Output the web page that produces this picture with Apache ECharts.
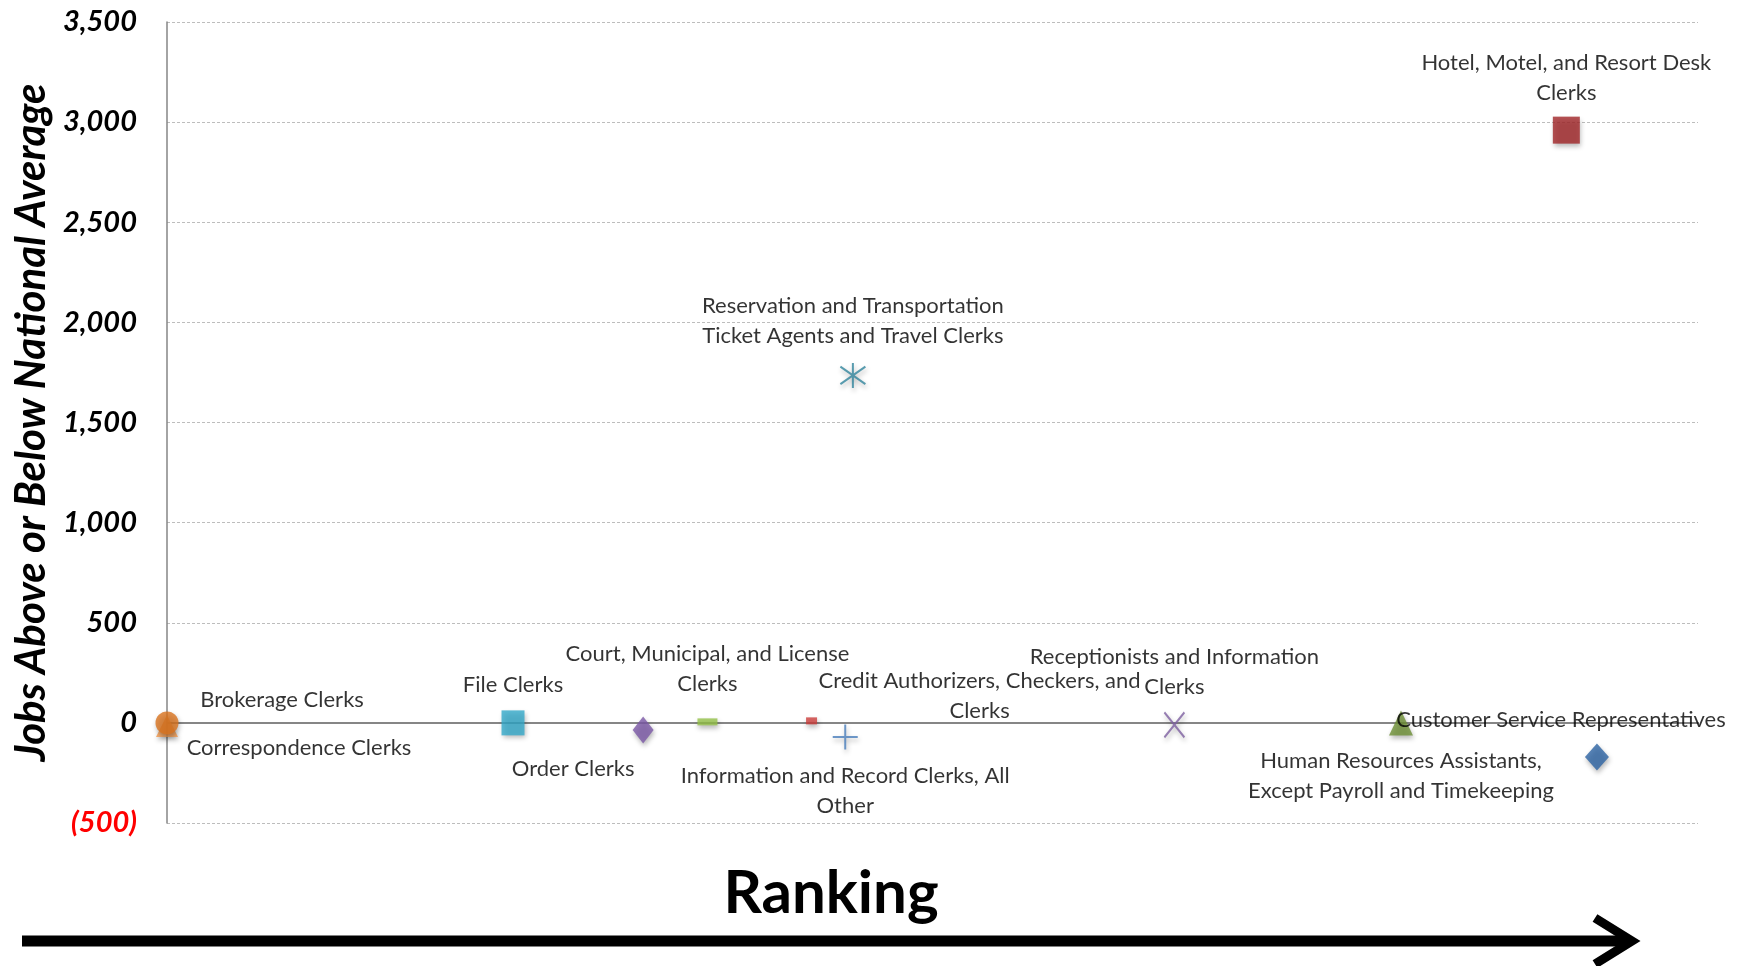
<!DOCTYPE html>
<html>
<head>
<meta charset="utf-8">
<script src="https://cdn.jsdelivr.net/npm/echarts@6/dist/echarts.min.js"></script>
<style>
html,body{margin:0;padding:0;background:#fff;}
#chart{width:1741px;height:966px;}
</style>
</head>
<body>
<div id="chart"></div>
<script>
// ---- data ----
const occupations = [
  "Brokerage Clerks",
  "Correspondence Clerks",
  "File Clerks",
  "Order Clerks",
  "Court, Municipal, and License Clerks",
  "Credit Authorizers, Checkers, and Clerks",
  "Information and Record Clerks, All Other",
  "Reservation and Transportation Ticket Agents and Travel Clerks",
  "Receptionists and Information Clerks",
  "Human Resources Assistants, Except Payroll and Timekeeping",
  "Customer Service Representatives",
  "Hotel, Motel, and Resort Desk Clerks"
];
const labelText = [
  "Brokerage Clerks",
  "Correspondence Clerks",
  "File Clerks",
  "Order Clerks",
  "Court, Municipal, and License\nClerks",
  "Credit Authorizers, Checkers, and\nClerks",
  "Information and Record Clerks, All\nOther",
  "Reservation and Transportation\nTicket Agents and Travel Clerks",
  "Receptionists and Information\nClerks",
  "Human Resources Assistants,\nExcept Payroll and Timekeeping",
  "Customer Service Representatives",
  "Hotel, Motel, and Resort Desk\nClerks"
];
const ranking  = [0, 0, 22.6, 31.1, 35.3, 42.1, 44.3, 44.8, 65.8, 80.6, 93.4, 91.4];
const jobsDiff = [0, -15, 0, -35, 5, 10, -70, 1735, -10, 0, -170, 2960];
const yTickMin = -500, yTickMax = 3500, yTickStep = 500;

// ---- styles (marker look and label placement) ----
const PLUS = 'path://M5 0 L5 10 M0 5 L10 5';
const CROSS = 'path://M0 0 L10 10 M10 0 L0 10';
const STAR = 'path://M5 0 L5 10 M0.7 1.5 L9.3 8.5 M0.7 8.5 L9.3 1.5';
const styles = [
  {symbol:'circle',   size:23,      color:'#d9731e', off:[115,-23]},
  {symbol:'triangle', size:22,      color:'#f59a4c', off:[132,22]},
  {symbol:'rect',     size:[23,25], color:'#33a9c9', off:[0,-38]},
  {symbol:'diamond',  size:[21,27], color:'#7b57a6', off:[-70,39]},
  {symbol:'rect',     size:[20,7],  color:'#93c047', off:[0,-53]},
  {symbol:'rect',     size:[11,7],  color:'#cc3d3b', off:[168,-25]},
  {symbol:PLUS,       size:25,      stroke:'#4a7ebb', off:[0,54]},
  {symbol:STAR,       size:25,      stroke:'#31859c', off:[0,-55]},
  {symbol:CROSS,      size:[20,25], stroke:'#7d5fa0', off:[0,-53]},
  {symbol:'triangle', size:[24,25], color:'#6d8f35', off:[0,53]},
  {symbol:'diamond',  size:[24,27], color:'#2d64a4', off:[-36,-37]},
  {symbol:'rect',     size:27,      color:'#a12628', off:[0,-52]}
];

const fmtNum = v => Math.abs(v).toLocaleString('en-US');

const series = occupations.map((name, i) => {
  const s = styles[i];
  const itemStyle = s.stroke
    ? {color:'rgba(0,0,0,0)', borderColor:s.stroke, borderWidth:2}
    : {color:s.color};
  itemStyle.shadowBlur = 5;
  itemStyle.shadowColor = 'rgba(0,0,0,0.35)';
  itemStyle.shadowOffsetX = 1;
  itemStyle.shadowOffsetY = 3;
  return {
    name: name,
    type: 'scatter',
    z: i === 1 ? 1 : 2,
    symbol: s.symbol,
    symbolSize: s.size,
    itemStyle: itemStyle,
    label: {
      show: true,
      position: 'inside',
      offset: s.off,
      formatter: () => labelText[i],
      color: '#000',
      fontFamily: 'Lato',
      fontSize: 22,
      lineHeight: 30,
      align: 'center',
      verticalAlign: 'middle'
    },
    emphasis: {disabled: true},
    data: [[ranking[i], jobsDiff[i]]]
  };
});

const chart = echarts.init(document.getElementById('chart'));
chart.setOption({
  animation: false,
  backgroundColor: '#fff',
  grid: {left:167, right:43, top:22, bottom:143, containLabel:false, outerBoundsMode:'none'},
  xAxis: {
    type: 'value',
    min: 0, max: 100,
    axisLine: {show:true, onZero:true, lineStyle:{color:'#868686', width:2}},
    axisTick: {show:false},
    axisLabel: {show:false},
    splitLine: {show:false}
  },
  yAxis: {
    type: 'value',
    min: yTickMin, max: yTickMax, interval: yTickStep,
    name: 'Jobs Above or Below National Average',
    nameLocation: 'middle',
    nameRotate: 90,
    nameGap: 115,
    nameTextStyle: {fontFamily:'Lato', fontSize:42, fontWeight:'bold', fontStyle:'italic', color:'#000'},
    axisLine: {show:true, lineStyle:{color:'#868686', width:1.5}},
    axisTick: {show:false},
    axisLabel: {
      margin: 30,
      fontFamily: 'Lato',
      fontSize: 29,
      fontWeight: 'bold',
      fontStyle: 'italic',
      color: v => Number(v) < 0 ? '#ff0000' : '#000',
      formatter: v => v < 0 ? '(' + fmtNum(v) + ')' : fmtNum(v)
    },
    splitLine: {show:true, lineStyle:{color:'#bdbdbd', type:[3,2], width:1}}
  },
  graphic: [
    {type:'text', x:831, y:894, style:{text:'Ranking', fontFamily:'Lato', fontWeight:'bold', fontSize:60, fill:'#000', align:'center', verticalAlign:'middle', textAlign:'center', textVerticalAlign:'middle'}},
    {type:'line', shape:{x1:22, y1:941, x2:1626, y2:941}, style:{stroke:'#000', lineWidth:11}},
    {type:'polyline', shape:{points:[[1595,918],[1632,941],[1595,964]]}, style:{stroke:'#000', lineWidth:9, fill:null, lineJoin:'miter'}}
  ],
  series: series
});
</script>
</body>
</html>
